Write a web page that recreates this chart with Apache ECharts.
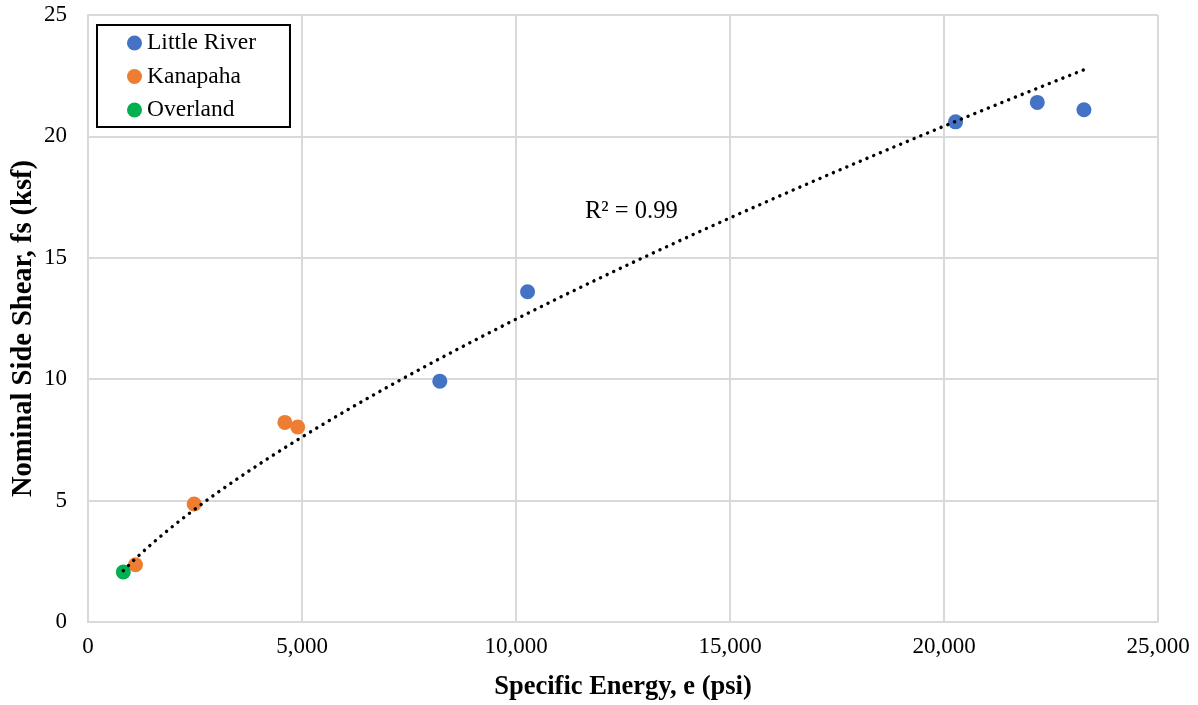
<!DOCTYPE html>
<html>
<head>
<meta charset="utf-8">
<script src="https://cdn.jsdelivr.net/npm/echarts@6/dist/echarts.min.js"></script>
<style>
  html, body { margin: 0; padding: 0; background: #fff; }
  #chart { width: 1198px; height: 705px; }
</style>
</head>
<body>
<div id="chart"></div>
<script>
    // specific energy (psi) vs nominal side shear (ksf)
    var littleRiverX = [8220, 10270, 20270, 22180, 23270];
    var littleRiverY = [9.92, 13.6, 20.6, 21.4, 21.1];
    var kanapahaX = [1110, 2480, 4600, 4900];
    var kanapahaY = [2.36, 4.86, 8.22, 8.03];
    var overlandX = [825];
    var overlandY = [2.06];
    var xTicks = [0, 5000, 10000, 15000, 20000, 25000];
    var yTicks = [0, 5, 10, 15, 20, 25];
    var rSquaredText = 'R² = 0.99';

    function pairs(xs, ys) {
        return xs.map(function (x, i) { return [x, ys[i]]; });
    }

    // power trendline y = a * x^b, least squares on logs (like Excel)
    var allX = littleRiverX.concat(kanapahaX, overlandX);
    var allY = littleRiverY.concat(kanapahaY, overlandY);
    function powerFit(xs, ys) {
        var n = xs.length, sx = 0, sy = 0, sxx = 0, sxy = 0;
        for (var i = 0; i < n; i++) {
            var lx = Math.log(xs[i]), ly = Math.log(ys[i]);
            sx += lx; sy += ly; sxx += lx * lx; sxy += lx * ly;
        }
        var b = (n * sxy - sx * sy) / (n * sxx - sx * sx);
        var a = Math.exp((sy - b * sx) / n);
        return function (x) { return a * Math.pow(x, b); };
    }
    var fit = powerFit(allX, allY);
    var xMin = Math.min.apply(null, allX), xMax = Math.max.apply(null, allX);
    var trend = [];
    for (var n = 0; n <= 100; n++) {
        var xv = xMin + (xMax - xMin) * n / 100;
        trend.push([xv, fit(xv)]);
    }

    var fontFamily = '"Liberation Serif", "Times New Roman", serif';
    var gridColor = '#d9d9d9';

    var myChart = echarts.init(document.getElementById('chart'));
    var option = {
        animation: false,
        textStyle: {fontFamily: fontFamily, color: '#000'},
        grid: {left: 88, right: 40, top: 15, bottom: 83, containLabel: false, outerBoundsMode: 'none'},
        legend: {
            orient: 'vertical',
            left: 97,
            top: 25,
            data: ['Little River', 'Kanapaha', 'Overland'],
            backgroundColor: '#fff',
            borderColor: '#000',
            borderWidth: 2,
            borderRadius: 0,
            padding: [6, 34, 5, 30],
            itemWidth: 15,
            itemHeight: 15,
            itemGap: 9.5,
            icon: 'circle',
            textStyle: {fontFamily: fontFamily, fontSize: 23.5, color: '#000'}
        },
        xAxis: {
            type: 'value',
            min: 0,
            max: 25000,
            interval: 5000,
            name: 'Specific Energy, e (psi)',
            nameLocation: 'middle',
            nameGap: 52,
            nameMoveOverlap: false,
            nameTextStyle: {fontFamily: fontFamily, fontSize: 26.5, fontWeight: 'bold', color: '#000'},
            axisLine: {show: true, lineStyle: {color: gridColor, width: 2}},
            axisTick: {show: false},
            axisLabel: {
                fontFamily: fontFamily, fontSize: 23, color: '#000', margin: 13,
                formatter: function (v) { return v.toLocaleString('en-US'); }
            },
            splitLine: {show: true, lineStyle: {color: gridColor, width: 2}}
        },
        yAxis: {
            type: 'value',
            min: 0,
            max: 25,
            interval: 5,
            name: 'Nominal Side Shear, fs (ksf)',
            nameLocation: 'middle',
            nameGap: 50,
            nameMoveOverlap: false,
            nameTextStyle: {fontFamily: fontFamily, fontSize: 28.5, fontWeight: 'bold', color: '#000', padding: [0, 20, 0, 0]},
            axisLine: {show: true, lineStyle: {color: gridColor, width: 2}},
            axisTick: {show: false},
            axisLabel: {fontFamily: fontFamily, fontSize: 23, color: '#000', margin: 21},
            splitLine: {show: true, lineStyle: {color: gridColor, width: 2}}
        },
        graphic: [{
            type: 'rect',
            shape: {x: 1158, y: 15, width: 0, height: 607},
            style: {stroke: gridColor, lineWidth: 2}
        }, {
            type: 'text',
            left: 585,
            top: 199,
            style: {text: rSquaredText, font: '24.5px ' + fontFamily, fill: '#000'}
        }],
        series: [
            {
                name: 'Little River',
                type: 'scatter',
                symbolSize: 15,
                itemStyle: {color: '#4472C4', opacity: 1},
                data: pairs(littleRiverX, littleRiverY),
                z: 2
            },
            {
                name: 'Kanapaha',
                type: 'scatter',
                symbolSize: 15,
                itemStyle: {color: '#ED7D31', opacity: 1},
                data: pairs(kanapahaX, kanapahaY),
                z: 2
            },
            {
                name: 'Overland',
                type: 'scatter',
                symbolSize: 15,
                itemStyle: {color: '#00B050', opacity: 1},
                data: pairs(overlandX, overlandY),
                z: 2
            },
            {
                name: 'trend',
                type: 'line',
                data: trend,
                showSymbol: false,
                symbol: 'none',
                smooth: false,
                silent: true,
                lineStyle: {color: '#000', width: 3.4, type: [0.1, 7.2], cap: 'round'},
                z: 5
            }
        ]
    };

    myChart.setOption(option);
</script>
</body>
</html>
